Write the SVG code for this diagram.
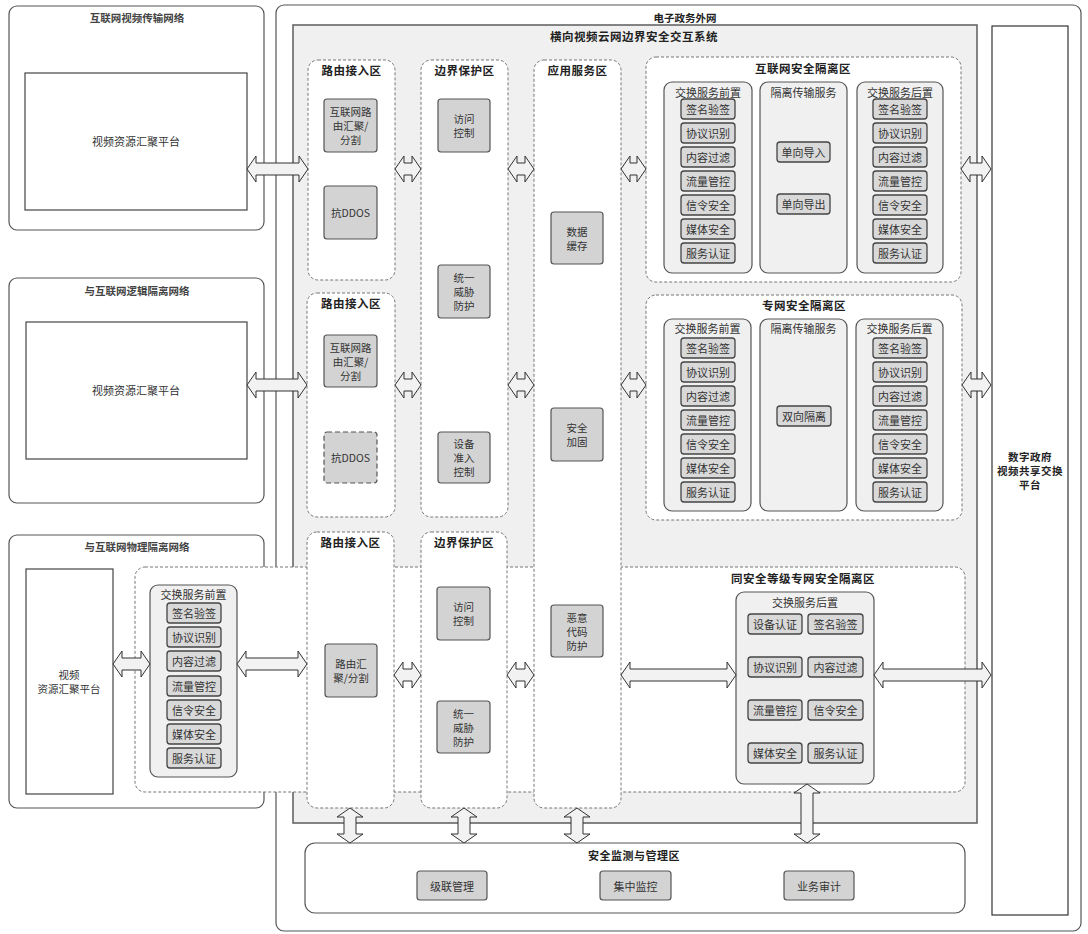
<svg xmlns="http://www.w3.org/2000/svg" width="1088" height="934" viewBox="0 0 1088 934">
<style>
text{font-family:"Noto Sans CJK SC","Liberation Sans",sans-serif;text-anchor:middle;dominant-baseline:central}
.ob{fill:#fff;stroke:#555;stroke-width:1.2}
.gr{fill:#f0f0f0;stroke:#666;stroke-width:1.6}
.zn{fill:#fff;stroke:#777;stroke-width:1;stroke-dasharray:3 2}
.sb{fill:#d3d3d3;stroke:#555;stroke-width:1.2}
.sbd{fill:#d3d3d3;stroke:#555;stroke-width:1.2;stroke-dasharray:5 3}
.sc{fill:#f0f0f0;stroke:#555;stroke-width:1.2}
.it{fill:#d9d9d9;stroke:#444;stroke-width:1.3}
.in{fill:#fff;stroke:#444;stroke-width:1.2}
.ar{fill:#f2f2f2;stroke:#333;stroke-width:1}
.t{font-size:11.5px;font-weight:bold;fill:#222;letter-spacing:0.5px}
.lt{font-size:10.5px;font-weight:bold;fill:#444}
.s{font-size:11px;fill:#333}
.m{font-size:10.5px;fill:#333}
.h{font-size:11px;fill:#333}
</style>

<!-- outer container -->
<g id="egov">
<rect class="ob" x="276" y="5" width="805" height="926" rx="8"/>
<text class="lt" x="685" y="17" style="fill:#222">电子政务外网</text>
</g>

<g id="left-net-1">
<rect class="ob" x="9" y="6" width="255" height="224" rx="8"/>
<text class="lt" x="137" y="17">互联网视频传输网络</text>
<rect class="in" x="25" y="73" width="222" height="137"/>
<text class="s" x="136" y="141">视频资源汇聚平台</text>
</g>

<g id="left-net-2">
<rect class="ob" x="9" y="278" width="255" height="225" rx="8"/>
<text class="lt" x="137" y="290">与互联网逻辑隔离网络</text>
<rect class="in" x="26" y="322" width="221" height="137"/>
<text class="s" x="136" y="390">视频资源汇聚平台</text>
</g>

<g id="left-net-3">
<rect class="ob" x="9" y="535" width="255" height="273" rx="8"/>
<text class="lt" x="137" y="546">与互联网物理隔离网络</text>
</g>

<g id="system">
<rect class="gr" x="293" y="25" width="684" height="798"/>
<text class="t" x="634" y="36">横向视频云网边界安全交互系统</text>
</g>

<g id="right-platform">
<rect class="in" x="992" y="26" width="76" height="889" style="stroke:#333"/>
<text class="t" x="1030" y="456" style="font-size:10.5px">数字政府</text>
<text class="t" x="1030" y="470" style="font-size:10.5px">视频共享交换</text>
<text class="t" x="1030" y="484" style="font-size:10.5px">平台</text>
</g>

<!-- third row big dashed zone -->
<g id="same-level-zone">
<rect class="zn" x="135" y="567" width="830" height="225" rx="10"/>
<text class="t" x="803" y="578">同安全等级专网安全隔离区</text>
</g>

<g id="left-3-inner">
<rect class="in" x="26" y="569" width="87" height="225"/>
<text class="m" x="69" y="674">视频</text>
<text class="m" x="69" y="688">资源汇聚平台</text>
</g>

<g id="front-3">
<rect class="sc" x="150" y="585" width="87" height="192" rx="8"/>
<text class="h" x="193.5" y="594">交换服务前置</text>
<rect class="it" x="167" y="603" width="54" height="20" rx="3"/><text class="s" x="194" y="613">签名验签</text>
<rect class="it" x="167" y="627" width="54" height="20" rx="3"/><text class="s" x="194" y="637">协议识别</text>
<rect class="it" x="167" y="651" width="54" height="20" rx="3"/><text class="s" x="194" y="661">内容过滤</text>
<rect class="it" x="167" y="676" width="54" height="20" rx="3"/><text class="s" x="194" y="686">流量管控</text>
<rect class="it" x="167" y="700" width="54" height="20" rx="3"/><text class="s" x="194" y="710">信令安全</text>
<rect class="it" x="167" y="724" width="54" height="20" rx="3"/><text class="s" x="194" y="734">媒体安全</text>
<rect class="it" x="167" y="748" width="54" height="20" rx="3"/><text class="s" x="194" y="758">服务认证</text>
</g>

<!-- route columns -->
<g id="route-1">
<rect class="zn" x="308" y="60" width="87" height="220" rx="10"/>
<text class="t" x="351.5" y="70">路由接入区</text>
<rect class="sb" x="324" y="99" width="53" height="53" rx="3"/>
<text class="m" x="350.5" y="111.5">互联网路</text>
<text class="m" x="350.5" y="125.5">由汇聚/</text>
<text class="m" x="350.5" y="139.5">分割</text>
<rect class="sb" x="324" y="186" width="53" height="53" rx="3"/>
<text class="m" x="350.5" y="212">抗DDOS</text>
</g>

<g id="route-2">
<rect class="zn" x="307" y="293" width="88" height="224" rx="10"/>
<text class="t" x="351" y="303">路由接入区</text>
<rect class="sb" x="324" y="335" width="53" height="52" rx="3"/>
<text class="m" x="350.5" y="347">互联网路</text>
<text class="m" x="350.5" y="361">由汇聚/</text>
<text class="m" x="350.5" y="375">分割</text>
<rect class="sbd" x="324" y="432" width="53" height="51" rx="3"/>
<text class="m" x="350.5" y="457">抗DDOS</text>
</g>

<g id="route-3">
<rect class="zn" x="307" y="532" width="87" height="276" rx="10"/>
<text class="t" x="350.5" y="542">路由接入区</text>
<rect class="sb" x="325" y="644" width="52" height="53" rx="3"/>
<text class="m" x="351" y="663.5">路由汇</text>
<text class="m" x="351" y="677.5">聚/分割</text>
</g>

<g id="border-1">
<rect class="zn" x="421" y="60" width="87" height="457" rx="10"/>
<text class="t" x="464.5" y="70">边界保护区</text>
<rect class="sb" x="438" y="99" width="52" height="53" rx="3"/>
<text class="m" x="464" y="118.5">访问</text>
<text class="m" x="464" y="132.5">控制</text>
<rect class="sb" x="438" y="265" width="52" height="53" rx="3"/>
<text class="m" x="464" y="277.5">统一</text>
<text class="m" x="464" y="291.5">威胁</text>
<text class="m" x="464" y="305.5">防护</text>
<rect class="sb" x="438" y="432" width="52" height="51" rx="3"/>
<text class="m" x="464" y="443.5">设备</text>
<text class="m" x="464" y="457.5">准入</text>
<text class="m" x="464" y="471.5">控制</text>
</g>

<g id="border-2">
<rect class="zn" x="421" y="532" width="86" height="276" rx="10"/>
<text class="t" x="464" y="542">边界保护区</text>
<rect class="sb" x="437" y="587" width="53" height="53" rx="3"/>
<text class="m" x="463.5" y="606.5">访问</text>
<text class="m" x="463.5" y="620.5">控制</text>
<rect class="sb" x="437" y="701" width="53" height="52" rx="3"/>
<text class="m" x="463.5" y="713">统一</text>
<text class="m" x="463.5" y="727">威胁</text>
<text class="m" x="463.5" y="741">防护</text>
</g>

<g id="app">
<rect class="zn" x="534" y="60" width="87" height="748" rx="10"/>
<text class="t" x="577.5" y="70">应用服务区</text>
<rect class="sb" x="551" y="212" width="52" height="52" rx="3"/>
<text class="m" x="577" y="231">数据</text>
<text class="m" x="577" y="245">缓存</text>
<rect class="sb" x="551" y="408" width="52" height="53" rx="3"/>
<text class="m" x="577" y="427.5">安全</text>
<text class="m" x="577" y="441.5">加固</text>
<rect class="sb" x="551" y="605" width="52" height="52" rx="3"/>
<text class="m" x="577" y="617">恶意</text>
<text class="m" x="577" y="631">代码</text>
<text class="m" x="577" y="645">防护</text>
</g>

<!-- internet isolation zone -->
<g id="inet-zone">
<rect class="zn" x="646" y="57" width="315" height="225" rx="10"/>
<text class="t" x="803" y="68">互联网安全隔离区</text>
<rect class="sc" x="664" y="82" width="88" height="191" rx="8"/>
<text class="h" x="708" y="92">交换服务前置</text>
<rect class="it" x="681" y="99" width="54" height="20" rx="3"/><text class="s" x="708" y="109">签名验签</text>
<rect class="it" x="681" y="123" width="54" height="20" rx="3"/><text class="s" x="708" y="133">协议识别</text>
<rect class="it" x="681" y="147" width="54" height="20" rx="3"/><text class="s" x="708" y="157">内容过滤</text>
<rect class="it" x="681" y="171" width="54" height="20" rx="3"/><text class="s" x="708" y="181">流量管控</text>
<rect class="it" x="681" y="195" width="54" height="20" rx="3"/><text class="s" x="708" y="205">信令安全</text>
<rect class="it" x="681" y="219" width="54" height="20" rx="3"/><text class="s" x="708" y="229">媒体安全</text>
<rect class="it" x="681" y="243" width="54" height="20" rx="3"/><text class="s" x="708" y="253">服务认证</text>
<rect class="sc" x="760" y="82" width="87" height="191" rx="8"/>
<text class="h" x="803.5" y="92">隔离传输服务</text>
<rect class="it" x="777" y="142" width="53" height="20" rx="3"/><text class="s" x="803.5" y="152">单向导入</text>
<rect class="it" x="777" y="194" width="53" height="20" rx="3"/><text class="s" x="803.5" y="204">单向导出</text>
<rect class="sc" x="857" y="82" width="86" height="191" rx="8"/>
<text class="h" x="900" y="92">交换服务后置</text>
<rect class="it" x="873" y="99" width="54" height="20" rx="3"/><text class="s" x="900" y="109">签名验签</text>
<rect class="it" x="873" y="123" width="54" height="20" rx="3"/><text class="s" x="900" y="133">协议识别</text>
<rect class="it" x="873" y="147" width="54" height="20" rx="3"/><text class="s" x="900" y="157">内容过滤</text>
<rect class="it" x="873" y="171" width="54" height="20" rx="3"/><text class="s" x="900" y="181">流量管控</text>
<rect class="it" x="873" y="195" width="54" height="20" rx="3"/><text class="s" x="900" y="205">信令安全</text>
<rect class="it" x="873" y="219" width="54" height="20" rx="3"/><text class="s" x="900" y="229">媒体安全</text>
<rect class="it" x="873" y="243" width="54" height="20" rx="3"/><text class="s" x="900" y="253">服务认证</text>
</g>

<!-- private network isolation zone -->
<g id="priv-zone">
<rect class="zn" x="646" y="295" width="316" height="225" rx="10"/>
<text class="t" x="804" y="305">专网安全隔离区</text>
<rect class="sc" x="664" y="319" width="87" height="192" rx="8"/>
<text class="h" x="707.5" y="328">交换服务前置</text>
<rect class="it" x="681" y="338" width="54" height="20" rx="3"/><text class="s" x="708" y="348">签名验签</text>
<rect class="it" x="681" y="362" width="54" height="20" rx="3"/><text class="s" x="708" y="372">协议识别</text>
<rect class="it" x="681" y="386" width="54" height="20" rx="3"/><text class="s" x="708" y="396">内容过滤</text>
<rect class="it" x="681" y="410" width="54" height="20" rx="3"/><text class="s" x="708" y="420">流量管控</text>
<rect class="it" x="681" y="434" width="54" height="20" rx="3"/><text class="s" x="708" y="444">信令安全</text>
<rect class="it" x="681" y="458" width="54" height="20" rx="3"/><text class="s" x="708" y="468">媒体安全</text>
<rect class="it" x="681" y="482" width="54" height="20" rx="3"/><text class="s" x="708" y="492">服务认证</text>
<rect class="sc" x="760" y="319" width="87" height="192" rx="8"/>
<text class="h" x="803.5" y="328">隔离传输服务</text>
<rect class="it" x="777" y="406" width="54" height="20" rx="3"/><text class="s" x="804" y="416">双向隔离</text>
<rect class="sc" x="856" y="319" width="87" height="192" rx="8"/>
<text class="h" x="899.5" y="328">交换服务后置</text>
<rect class="it" x="873" y="338" width="54" height="20" rx="3"/><text class="s" x="900" y="348">签名验签</text>
<rect class="it" x="873" y="362" width="54" height="20" rx="3"/><text class="s" x="900" y="372">协议识别</text>
<rect class="it" x="873" y="386" width="54" height="20" rx="3"/><text class="s" x="900" y="396">内容过滤</text>
<rect class="it" x="873" y="410" width="54" height="20" rx="3"/><text class="s" x="900" y="420">流量管控</text>
<rect class="it" x="873" y="434" width="54" height="20" rx="3"/><text class="s" x="900" y="444">信令安全</text>
<rect class="it" x="873" y="458" width="54" height="20" rx="3"/><text class="s" x="900" y="468">媒体安全</text>
<rect class="it" x="873" y="482" width="54" height="20" rx="3"/><text class="s" x="900" y="492">服务认证</text>
</g>

<g id="back-3">
<rect class="sc" x="736" y="592" width="138" height="192" rx="8"/>
<text class="h" x="805" y="602">交换服务后置</text>
<rect class="it" x="748" y="614" width="54" height="20" rx="3"/><text class="s" x="775" y="624">设备认证</text>
<rect class="it" x="808" y="614" width="55" height="20" rx="3"/><text class="s" x="835.5" y="624">签名验签</text>
<rect class="it" x="748" y="657" width="54" height="20" rx="3"/><text class="s" x="775" y="667">协议识别</text>
<rect class="it" x="808" y="657" width="55" height="20" rx="3"/><text class="s" x="835.5" y="667">内容过滤</text>
<rect class="it" x="748" y="700" width="54" height="20" rx="3"/><text class="s" x="775" y="710">流量管控</text>
<rect class="it" x="808" y="700" width="55" height="20" rx="3"/><text class="s" x="835.5" y="710">信令安全</text>
<rect class="it" x="748" y="743" width="54" height="20" rx="3"/><text class="s" x="775" y="753">媒体安全</text>
<rect class="it" x="808" y="743" width="55" height="20" rx="3"/><text class="s" x="835.5" y="753">服务认证</text>
</g>

<g id="monitor">
<rect class="ob" x="305" y="843" width="660" height="70" rx="10"/>
<text class="t" x="634" y="855" style="font-size:11px">安全监测与管理区</text>
<rect class="sb" x="417" y="871" width="70" height="29" rx="3"/><text class="s" x="452" y="885.5">级联管理</text>
<rect class="sb" x="600" y="871" width="71" height="29" rx="3"/><text class="s" x="635.5" y="885.5">集中监控</text>
<rect class="sb" x="784" y="871" width="70" height="29" rx="3"/><text class="s" x="819" y="885.5">业务审计</text>
</g>

<!-- connectors -->
<g id="connectors">
<polygon class="ar" points="247,169 256,156 256,163 299,163 299,156 308,169 299,182 299,175 256,175 256,182"/>
<polygon class="ar" points="395,169 404,156 404,163 412,163 412,156 421,169 412,182 412,175 404,175 404,182"/>
<polygon class="ar" points="508,169 517,156 517,163 525,163 525,156 534,169 525,182 525,175 517,175 517,182"/>
<polygon class="ar" points="621,169 630,156 630,163 637,163 637,156 646,169 637,182 637,175 630,175 630,182"/>
<polygon class="ar" points="961,169 970,156 970,163 982,163 982,156 991,169 982,182 982,175 970,175 970,182"/>

<polygon class="ar" points="247,385 256,372 256,379 298,379 298,372 307,385 298,398 298,391 256,391 256,398"/>
<polygon class="ar" points="395,385 404,372 404,379 412,379 412,372 421,385 412,398 412,391 404,391 404,398"/>
<polygon class="ar" points="508,385 517,372 517,379 525,379 525,372 534,385 525,398 525,391 517,391 517,398"/>
<polygon class="ar" points="621,385 630,372 630,379 637,379 637,372 646,385 637,398 637,391 630,391 630,398"/>
<polygon class="ar" points="962,385 971,372 971,379 982,379 982,372 991,385 982,398 982,391 971,391 971,398"/>

<polygon class="ar" points="113,664 122,651 122,658 141,658 141,651 150,664 141,677 141,670 122,670 122,677"/>
<polygon class="ar" points="237,664 246,651 246,658 298,658 298,651 307,664 298,677 298,670 246,670 246,677"/>
<polygon class="ar" points="394,675 403,662 403,669 412,669 412,662 421,675 412,688 412,681 403,681 403,688"/>
<polygon class="ar" points="507,675 516,662 516,669 525,669 525,662 534,675 525,688 525,681 516,681 516,688"/>
<polygon class="ar" points="621,675 630,662 630,669 727,669 727,662 736,675 727,688 727,681 630,681 630,688"/>
<polygon class="ar" points="874,675 883,662 883,669 982,669 982,662 991,675 982,688 982,681 883,681 883,688"/>

<polygon class="ar" points="350,808 363,817 356,817 356,834 363,834 350,843 337,834 344,834 344,817 337,817"/>
<polygon class="ar" points="464,808 477,817 470,817 470,834 477,834 464,843 451,834 458,834 458,817 451,817"/>
<polygon class="ar" points="577,808 590,817 583,817 583,834 590,834 577,843 564,834 571,834 571,817 564,817"/>
<polygon class="ar" points="807,784 820,793 813,793 813,834 820,834 807,843 794,834 801,834 801,793 794,793"/>
</g>
</svg>
